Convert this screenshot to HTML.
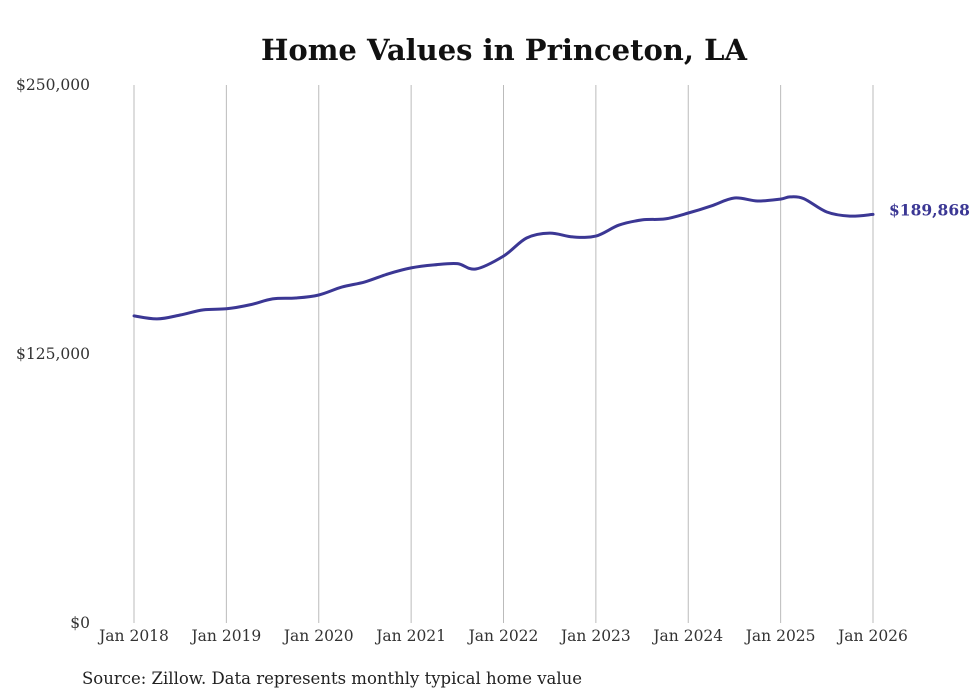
<!DOCTYPE html>
<html><head><meta charset="utf-8"><style>
html,body{margin:0;padding:0;background:#fff;}
svg{display:block;font-family:"DejaVu Serif","Liberation Serif",serif;}
</style></head><body>
<svg id="chart" width="980" height="699" viewBox="0 0 980 699">
<text x="504" y="60" text-anchor="middle" font-size="29" font-weight="bold" fill="#111">Home Values in Princeton, LA</text>
<g id="grid"></g>
<g id="yaxis"></g>
<g id="xaxis"></g>
<path id="line" fill="none" stroke="#3b3794" stroke-width="3" stroke-linejoin="round" stroke-linecap="round"></path>
<text id="endlabel" font-size="15.5" font-weight="bold" fill="#3b3794"></text>
<text x="82" y="684" font-size="16.5" fill="#222">Source: Zillow. Data represents monthly typical home value</text>
</svg>
<script>
const xTicks = [2018,2019,2020,2021,2022,2023,2024,2025,2026];
const yTicks = [0,125000,250000];
const dates = [2018,2018.25,2018.5,2018.75,2019,2019.25,2019.5,2019.75,2020,2020.25,2020.5,2020.75,2021,2021.25,2021.5,2021.7,2022,2022.25,2022.5,2022.75,2023,2023.25,2023.5,2023.75,2024,2024.25,2024.5,2024.75,2025,2025.1,2025.25,2025.5,2025.75,2026];
const values = [142700,141300,143100,145500,146000,147800,150600,151000,152400,156100,158500,162200,165000,166400,167000,164500,170500,178900,181200,179400,179800,184900,187300,187800,190500,193800,197500,196100,197000,198000,197200,191000,189100,189868];
const NS="http://www.w3.org/2000/svg";
const x = d => 134 + (d-2018)*(873-134)/8;
const y = v => 623 - v*(623-85)/250000;
function mk(tag, attrs, parent){const e=document.createElementNS(NS,tag);for(const k in attrs)e.setAttribute(k,attrs[k]);parent.appendChild(e);return e;}
const grid=document.getElementById('grid'), xa=document.getElementById('xaxis'), ya=document.getElementById('yaxis');
xTicks.forEach(t=>{
  const l=mk('line',{x1:x(t),x2:x(t),y1:85,y2:623,stroke:'#bbb','stroke-width':1},grid);
  
  
  const tx=mk('text',{x:x(t),y:641,'text-anchor':'middle','font-size':15.5,fill:'#333'},xa);
  tx.textContent='Jan '+t;
  
  
});
yTicks.forEach(t=>{
  const tx=mk('text',{x:90,y:y(t)+5,'text-anchor':'end','font-size':15.5,fill:'#333'},ya);
  tx.textContent='$'+t.toLocaleString('en-US');
  
  
});
const pts = dates.map((d,i)=>[x(d), y(values[i])]);
let dstr = 'M'+pts[0][0].toFixed(1)+','+pts[0][1].toFixed(1);
for(let i=0;i<pts.length-1;i++){
  const p0=pts[Math.max(0,i-1)], p1=pts[i], p2=pts[i+1], p3=pts[Math.min(pts.length-1,i+2)];
  const c1=[p1[0]+(p2[0]-p0[0])/6, p1[1]+(p2[1]-p0[1])/6];
  const c2=[p2[0]-(p3[0]-p1[0])/6, p2[1]-(p3[1]-p1[1])/6];
  dstr += 'C'+c1.map(v=>v.toFixed(1)).join(',')+' '+c2.map(v=>v.toFixed(1)).join(',')+' '+p2.map(v=>v.toFixed(1)).join(',');
}
document.getElementById('line').setAttribute('d',dstr);
const el=document.getElementById('endlabel');
const last=values[values.length-1];
el.setAttribute('x',x(dates[dates.length-1])+16);
el.setAttribute('y',y(last)+1);
el.textContent='$'+last.toLocaleString('en-US');
</script>
</body></html>
